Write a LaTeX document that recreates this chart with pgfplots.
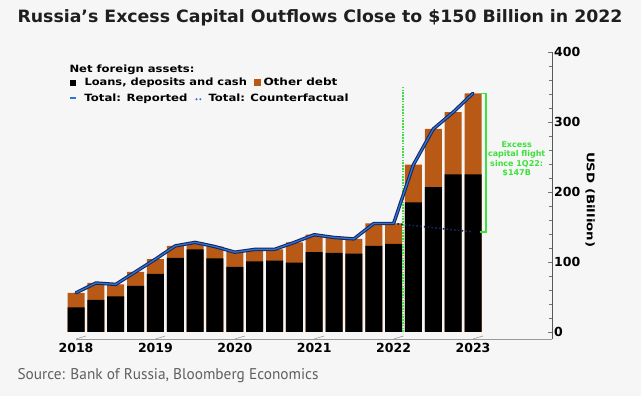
\documentclass[border=0pt]{standalone}
\usepackage{pgfplots}
\pgfplotsset{compat=1.18}
\usepackage{graphicx}
\usepackage{fontspec}
\setmainfont{DejaVu Sans}
\newfontfamily\srcfont{PT Sans}
\definecolor{bg}{RGB}{246,246,246}
\definecolor{orng}{RGB}{184,90,22}
\definecolor{navy}{RGB}{22,38,88}
\definecolor{lblue}{RGB}{45,115,220}
\definecolor{flightgreen}{RGB}{60,225,60}
\definecolor{srcgray}{RGB}{95,95,95}
\newcommand\fitw[2]{\resizebox{#1}{\height}{#2}}

\pgfplotstableread{
i black total
0 35 56
1 46 70
2 51 68
3 66 86
4 83 104
5 106 123
6 118 128
7 105 122
8 93 114
9 101 118
10 102 118
11 99 128
12 114 139
13 113 135
14 112 133
15 123 155
16 126 155
17 185 239
18 207 290
19 225 314
20 225 341
}\bars

\pgfplotstableread{
i cf
16 155
17 152
18 149
19 146
20 143
}\cf

\begin{document}
\begin{tikzpicture}
\useasboundingbox (0,0) rectangle (641pt,396pt);
\fill[bg] (0,0) rectangle (641pt,396pt);
% title
\node[anchor=base west, inner sep=0, text=black!88, font=\bfseries\fontsize{17}{20}\selectfont] at (17.3pt,373.7pt) {\fitw{605pt}{Russia’s Excess Capital Outflows Close to \$150 Billion in 2022}};
% legend
\node[anchor=base west, inner sep=0, font=\bfseries\fontsize{10}{12}\selectfont] at (69.3pt,323.7pt) {\fitw{125pt}{Net foreign assets:}};
\fill[black] (70pt,310.3pt) rectangle ++(5.8pt,5.8pt);
\node[anchor=base west, inner sep=0, font=\bfseries\fontsize{10}{12}\selectfont] at (84.3pt,310.3pt) {\fitw{162.4pt}{Loans, deposits and cash}};
\fill[orng] (254pt,310.3pt) rectangle ++(6.5pt,6.5pt);
\node[anchor=base west, inner sep=0, font=\bfseries\fontsize{10}{12}\selectfont] at (263.3pt,310.3pt) {\fitw{74pt}{Other debt}};
\draw[lblue, line width=2.2pt] (70pt,297.7pt) -- (76pt,297.7pt);
\node[anchor=base west, inner sep=0, font=\bfseries\fontsize{10}{12}\selectfont] at (84.3pt,294.3pt) {\fitw{103pt}{Total: Reported}};
\fill[lblue!85!navy] (196.5pt,296.8pt) circle (1.1pt);
\fill[lblue!85!navy] (200.3pt,296.8pt) circle (1.1pt);
\node[anchor=base west, inner sep=0, font=\bfseries\fontsize{10}{12}\selectfont] at (208.3pt,294.3pt) {\fitw{140pt}{Total: Counterfactual}};
% source
\node[anchor=base west, inner sep=0, text=srcgray, font=\srcfont\fontsize{15.5}{18}\selectfont] at (17.3pt,16pt) {\fitw{301pt}{Source: Bank of Russia, Bloomberg Economics}};

\begin{axis}[
  at={(66.1pt,57pt)}, anchor=south west, scale only axis,
  width=486.3pt, height=287pt,
  xmin=-0.5, xmax=24, ymin=-10, ymax=400,
  axis y line*=right, axis x line*=bottom,
  x axis line style={draw=none},
  y axis line style={draw=black!65, line width=0.8pt},
  xtick={0,4,8,12,16,20},
  xticklabels={2018,2019,2020,2021,2022,2023},
  xtick style={draw=none},
  ytick={0,100,200,300,400},
  minor y tick num=4,
  tick align=inside,
  major tick length=4pt, minor tick length=3.5pt,
  ytick style={draw=black!55, line width=0.6pt},
  minor tick style={draw=black!50, line width=0.7pt},
  /pgf/number format/assume math mode=true,
  xticklabel style={font=\bfseries\fontsize{12.5}{14}\selectfont, inner sep=0pt, yshift=-4.3pt},
  yticklabel style={font=\bfseries\fontsize{12.5}{14}\selectfont, inner sep=0pt, xshift=1.5pt},
  clip=false,
]
\draw[black!40, line width=0.8pt] (axis cs:0,-10) -- (axis cs:24,-10);
\pgfplotsinvokeforeach{0,4,8,12,16,20}{
  \draw[black!40, line width=0.6pt] (axis cs:#1,-10) -- ++(0,-4pt);
}
\addplot[ybar, bar width=17pt, bar shift=0pt, fill=orng, draw=none] table[x=i, y=total] {\bars};
\addplot[ybar, bar width=17pt, bar shift=0pt, fill=black, draw=none] table[x=i, y=black] {\bars};
\draw[draw=flightgreen, line width=1.4pt, dash pattern=on 1.6pt off 1.2pt] (axis cs:16.48,0) -- (axis cs:16.48,350);
\addplot[navy, line width=1.6pt, dash pattern=on 1.6pt off 2.2pt] table[x=i, y=cf] {\cf};
\addplot[navy, line width=3.4pt, line join=round, line cap=round] table[x=i, y=total] {\bars};
\addplot[lblue, line width=1.3pt, line join=round, line cap=round] table[x=i, y=total] {\bars};
\draw[draw=flightgreen, line width=1.4pt] (axis cs:20.35,341) -- (axis cs:20.65,341) -- (axis cs:20.65,143) -- (axis cs:20.35,143);
\node[text=flightgreen, font=\bfseries\fontsize{8}{9.2}\selectfont, align=center] at (axis cs:22.2,247) {Excess\\capital flight\\since 1Q22:\\\$147B};
\node[rotate=-90, font=\bfseries\fontsize{10.5}{12}\selectfont, inner sep=0] at (axis cs:25.9,189) {\fitw{95pt}{USD (Billion)}};
\end{axis}
\end{tikzpicture}
\end{document}
